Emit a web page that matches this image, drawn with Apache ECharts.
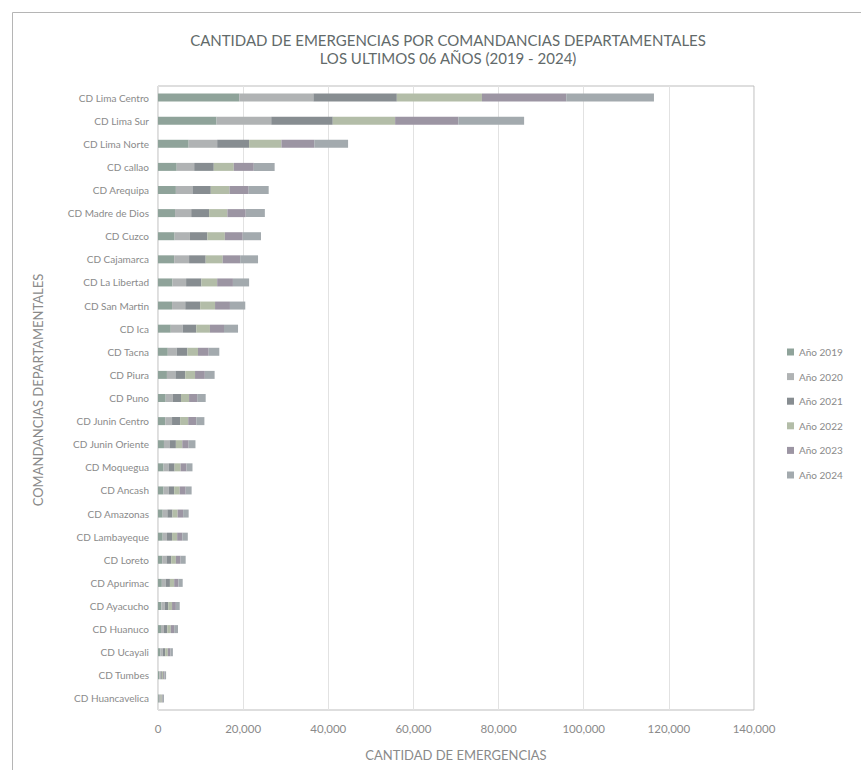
<!DOCTYPE html>
<html>
<head>
<meta charset="utf-8">
<script src="https://cdn.jsdelivr.net/npm/echarts@6/dist/echarts.min.js"></script>
<style>html,body{margin:0;padding:0;background:#fff}#c{width:861px;height:770px}</style>
</head>
<body>
<div id="c"></div>
<script>
const categories = ['CD Lima Centro','CD Lima Sur','CD Lima Norte','CD callao','CD Arequipa','CD Madre de Dios','CD Cuzco','CD Cajamarca','CD La Libertad','CD San Martin','CD Ica','CD Tacna','CD Piura','CD Puno','CD Junin Centro','CD Junin Oriente','CD Moquegua','CD Ancash','CD Amazonas','CD Lambayeque','CD Loreto','CD Apurimac','CD Ayacucho','CD Huanuco','CD Ucayali','CD Tumbes','CD Huancavelica'];
const seriesNames = ['Año 2019','Año 2020','Año 2021','Año 2022','Año 2023','Año 2024'];
const y2019 = [19100,13750,7200,4400,4200,4000,3900,3800,3400,3300,3000,2300,2100,1800,1700,1400,1300,1300,1100,1100,1000,900,800,700,600,300,200];
const y2020 = [17400,12850,6700,4100,3900,3800,3600,3500,3200,3100,2800,2100,2000,1700,1600,1300,1200,1200,1100,1000,1000,900,800,700,500,300,200];
const y2021 = [19600,14450,7500,4600,4300,4200,4100,3900,3600,3500,3200,2500,2300,1900,1900,1500,1400,1300,1200,1200,1100,1000,800,800,600,300,200];
const y2022 = [20000,14650,7600,4700,4400,4300,4100,4000,3700,3500,3200,2500,2300,1900,1900,1500,1400,1300,1200,1200,1100,1000,900,800,600,300,300];
const y2023 = [19800,14850,7700,4700,4500,4300,4200,4100,3700,3500,3300,2500,2300,1900,1900,1500,1400,1400,1300,1200,1100,1000,900,800,600,300,200];
const y2024 = [20600,15450,7950,4900,4700,4500,4300,4200,3800,3600,3300,2500,2300,2000,1900,1600,1400,1400,1300,1300,1200,1000,900,900,600,400,300];
const xTicks = [0,20000,40000,60000,80000,100000,120000,140000];

const values = [y2019,y2020,y2021,y2022,y2023,y2024];
const colors = ['#8fa39a','#b0b3b4','#878d91','#b3bda8','#9c95a3','#a3aaae'];
const font = 'Lato, "Open Sans", sans-serif';

const chart = echarts.init(document.getElementById('c'), null, {renderer:'svg'});
chart.setOption({
  backgroundColor:'#fff',
  animation:false,
  color: colors,
  title:{
    text:'CANTIDAD DE EMERGENCIAS POR COMANDANCIAS DEPARTAMENTALES\nLOS ULTIMOS 06 AÑOS (2019 - 2024)',
    left:443, top:26, textAlign:'center',
    textStyle:{fontFamily:font, fontSize:15, fontWeight:'normal', color:'#626a6a', lineHeight:18}
  },
  legend:{
    orient:'vertical', left:782, top:342,
    itemWidth:7, itemHeight:7, itemGap:14.6, icon:'rect',
    textStyle:{fontFamily:font, fontSize:10, color:'#8a8a8a'},
    data: seriesNames
  },
  grid:{left:158, right:107, top:86, bottom:60, show:true, borderColor:'#bdbdbd', borderWidth:1},
  xAxis:{
    type:'value', min:xTicks[0], max:xTicks[xTicks.length-1], interval:20000,
    name:'CANTIDAD DE EMERGENCIAS', nameLocation:'middle', nameGap:38,
    nameTextStyle:{fontFamily:font, fontSize:13, color:'#8a8a8a'},
    axisLine:{show:false}, axisTick:{show:false},
    axisLabel:{fontFamily:font, fontSize:11.5, color:'#8a8a8a', margin:12,
      formatter:v=>v.toLocaleString('en-US')},
    splitLine:{show:true, lineStyle:{color:'#e2e2e2', width:1}}
  },
  yAxis:{
    type:'category', data:categories, inverse:true,
    axisLine:{show:false}, axisTick:{show:false},
    axisLabel:{fontFamily:font, fontSize:10, color:'#8a8a8a', margin:9}
  },
  graphic:[
    {type:'rect', shape:{x:12.5,y:12.5,width:900,height:800}, style:{fill:'none', stroke:'#b5b5b5', lineWidth:1}, silent:true},
    {type:'text', x:38, y:390, rotation:Math.PI/2, style:{text:'COMANDANCIAS DEPARTAMENTALES', fontFamily:font, fontSize:13, fill:'#8a8a8a', textAlign:'center', textVerticalAlign:'middle'}}
  ],
  series: seriesNames.map((n,i)=>({
    name:n, type:'bar', stack:'total', barWidth:8, data:values[i]
  }))
});
</script>
</body>
</html>
